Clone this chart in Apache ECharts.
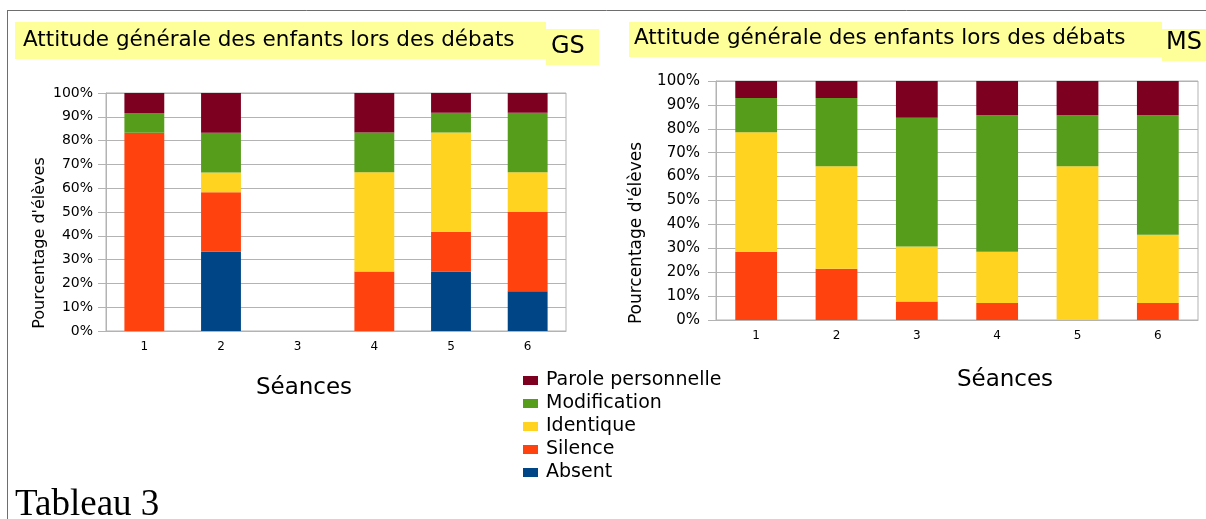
<!DOCTYPE html>
<html>
<head>
<meta charset="utf-8">
<title>Attitude générale des enfants lors des débats</title>
<script src="https://cdn.jsdelivr.net/npm/echarts@6/dist/echarts.min.js"></script>
<style>
  html, body { margin: 0; padding: 0; background: #fff; }
  #chart { width: 1206px; height: 519px; }
</style>
</head>
<body>
<div id="chart"></div>
<script>
// séances (axe des x)
var seances = ['1', '2', '3', '4', '5', '6'];
var yTicks = [0, 10, 20, 30, 40, 50, 60, 70, 80, 90, 100];

// GS : pourcentage d'élèves par attitude
var absentGS       = [0, 33.3, 0, 0, 25, 16.7];
var silenceGS      = [83.3, 25, 0, 25, 16.7, 33.3];
var identiqueGS    = [0, 8.3, 0, 41.7, 41.7, 16.7];
var modificationGS = [8.3, 16.7, 0, 16.7, 8.3, 25];
var paroleGS       = [8.4, 16.7, 0, 16.6, 8.3, 8.3];

// MS
var absentMS       = [0, 0, 0, 0, 0, 0];
var silenceMS      = [28.6, 21.4, 7.7, 7.1, 0, 7.1];
var identiqueMS    = [50, 42.9, 23.1, 21.5, 64.3, 28.6];
var modificationMS = [14.3, 28.6, 53.8, 57.1, 21.4, 50];
var paroleMS       = [7.1, 7.1, 15.4, 14.3, 14.3, 14.3];

var legendNames = ['Parole personnelle', 'Modification', 'Identique', 'Silence', 'Absent'];
var colors = {
  'Absent': '#004586',
  'Silence': '#ff420e',
  'Identique': '#ffd320',
  'Modification': '#579d1c',
  'Parole personnelle': '#7e0021'
};

var FONT = '"DejaVu Sans", sans-serif';
var chart = echarts.init(document.getElementById('chart'));

function xAxisFor(gridIndex) {
  return {
    type: 'category',
    gridIndex: gridIndex,
    data: seances,
    axisLine: { lineStyle: { color: '#b3b3b3' } },
    axisTick: { length: 5, lineStyle: { color: '#b3b3b3' } },
    axisLabel: { color: '#000', fontFamily: FONT, fontSize: 12, margin: 10 }
  };
}
function yAxisFor(gridIndex, size, margin) {
  return {
    type: 'value',
    gridIndex: gridIndex,
    min: yTicks[0],
    max: yTicks[yTicks.length - 1],
    interval: yTicks[1] - yTicks[0],
    axisLine: { show: true, lineStyle: { color: '#b3b3b3' } },
    axisTick: { show: true, length: 8, lineStyle: { color: '#b3b3b3' } },
    splitLine: { lineStyle: { color: '#b3b3b3' } },
    axisLabel: { color: '#000', fontFamily: FONT, fontSize: size, margin: margin, formatter: '{value}%' }
  };
}
function barSerie(name, data, idx) {
  return {
    name: name,
    type: 'bar',
    stack: 'pile' + idx,
    xAxisIndex: idx,
    yAxisIndex: idx,
    barWidth: '52%',
    itemStyle: { color: colors[name] },
    data: data
  };
}
function txt(text, x, y, size, extra) {
  var el = {
    type: 'text', x: x, y: y, z: 10,
    style: { text: text, font: size + 'px ' + FONT, fill: '#000', align: 'left', verticalAlign: 'middle' }
  };
  if (extra) for (var k in extra) el[k] = extra[k];
  return el;
}

var option = {
  animation: false,
  backgroundColor: '#fff',
  grid: [
    { left: 106, right: 640, top: 93, bottom: 188, show: true, borderColor: '#b3b3b3', borderWidth: 1 },
    { left: 716, right: 8, top: 81, bottom: 199, show: true, borderColor: '#b3b3b3', borderWidth: 1 }
  ],
  xAxis: [xAxisFor(0), xAxisFor(1)],
  yAxis: [yAxisFor(0, 14, 13), yAxisFor(1, 15, 16)],
  legend: {
    data: legendNames,
    orient: 'vertical',
    left: 518,
    top: 366,
    icon: 'rect',
    itemWidth: 15,
    itemHeight: 9,
    itemGap: 4,
    selectedMode: false,
    textStyle: { color: '#000', fontFamily: FONT, fontSize: 19, lineHeight: 18, padding: [0, 0, 0, 3] }
  },
  series: [
    barSerie('Absent', absentGS, 0),
    barSerie('Silence', silenceGS, 0),
    barSerie('Identique', identiqueGS, 0),
    barSerie('Modification', modificationGS, 0),
    barSerie('Parole personnelle', paroleGS, 0),
    barSerie('Absent', absentMS, 1),
    barSerie('Silence', silenceMS, 1),
    barSerie('Identique', identiqueMS, 1),
    barSerie('Modification', modificationMS, 1),
    barSerie('Parole personnelle', paroleMS, 1)
  ],
  graphic: [
    // cadre
    { type: 'line', shape: { x1: 7, y1: 10.5, x2: 1206, y2: 10.5 }, style: { stroke: '#6e6e6e', lineWidth: 1 } },
    { type: 'line', shape: { x1: 7.5, y1: 10, x2: 7.5, y2: 519 }, style: { stroke: '#6e6e6e', lineWidth: 1 } },
    // titres (fonds jaunes)
    { type: 'rect', shape: { x: 15, y: 22, width: 531, height: 37 }, style: { fill: '#ffff99' } },
    { type: 'rect', shape: { x: 546, y: 29, width: 53, height: 36 }, style: { fill: '#ffff99' } },
    { type: 'rect', shape: { x: 629, y: 22, width: 533, height: 35 }, style: { fill: '#ffff99' } },
    { type: 'rect', shape: { x: 1162, y: 29, width: 44, height: 32 }, style: { fill: '#ffff99' } },
    txt('Attitude générale des enfants lors des débats', 23, 40, 21.5),
    txt('GS', 551, 47, 24),
    txt('Attitude générale des enfants lors des débats', 634, 38, 21.5),
    txt('MS', 1166, 43, 24),
    // titres des axes
    txt('Séances', 304, 388, 23, null),
    txt('Séances', 1005, 380, 23, null),
    txt('Pourcentage d\'élèves', 40, 243, 16, { rotation: Math.PI / 2 }),
    txt('Pourcentage d\'élèves', 637, 233, 17, { rotation: Math.PI / 2 }),
    { type: 'text', x: 15, y: 505, z: 10,
      style: { text: 'Tableau 3', font: '37px "Liberation Serif", serif', fill: '#000', align: 'left', verticalAlign: 'middle' } }
  ]
};

// centrer les titres d'axes
option.graphic.forEach(function (g) {
  if (g.type === 'text' && (g.style.text === 'Séances' || g.rotation)) g.style.align = 'center';
});

chart.setOption(option);
</script>
</body>
</html>
